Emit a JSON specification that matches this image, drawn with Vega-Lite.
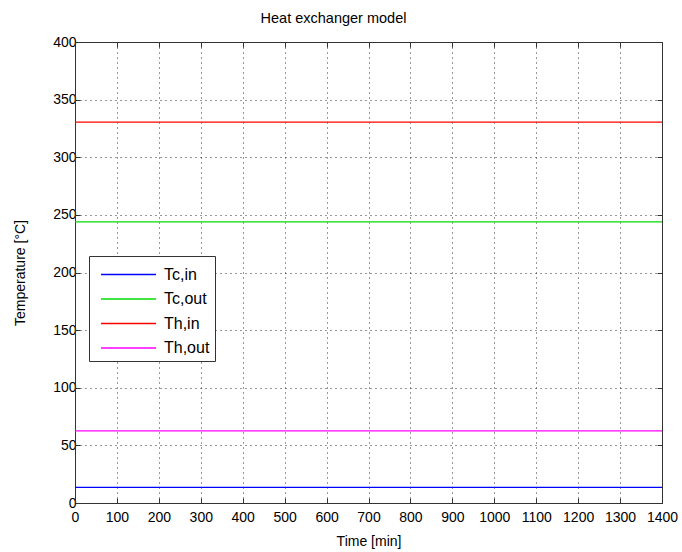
{
  "$schema": "https://vega.github.io/schema/vega-lite/v6.json",
  "autosize": {"type": "none"},
  "width": 587,
  "height": 461,
  "padding": {"left": 75, "top": 42, "right": 20, "bottom": 49},
  "background": "white",
  "title": {"text": "Heat exchanger model", "font": "Liberation Sans", "fontSize": 14.5, "fontWeight": "normal", "color": "#000", "offset": 9, "dx": -35},
  "config": {
    "view": {"stroke": "#333", "strokeWidth": 1},
    "axis": {"labelFont": "Liberation Sans", "titleFont": "Liberation Sans", "labelFontSize": 14, "titleFontSize": 14, "titleFontWeight": "normal", "labelColor": "#000", "titleColor": "#000", "domainColor": "#333", "tickColor": "#333", "tickSize": -5, "labelOverlap": false, "labelFlush": false}
  },
  "data": {"values": [
    {"t": 0, "T": 13.5, "s": "Tc,in"}, {"t": 1400, "T": 13.5, "s": "Tc,in"},
    {"t": 0, "T": 244, "s": "Tc,out"}, {"t": 1400, "T": 244, "s": "Tc,out"},
    {"t": 0, "T": 330.5, "s": "Th,in"}, {"t": 1400, "T": 330.5, "s": "Th,in"},
    {"t": 0, "T": 62.5, "s": "Th,out"}, {"t": 1400, "T": 62.5, "s": "Th,out"}
  ]},
  "layer": [
    {
      "mark": {"type": "line", "strokeWidth": 1.2},
      "encoding": {
        "x": {"field": "t", "type": "quantitative", "scale": {"domain": [0, 1400], "nice": false},
          "axis": {"title": "Time [min]", "format": "d", "labelPadding": 12, "values": [0,100,200,300,400,500,600,700,800,900,1000,1100,1200,1300,1400], "grid": true, "gridDash": [1, 4], "gridColor": "#000", "gridOpacity": 0.8, "titlePadding": 10}},
        "y": {"field": "T", "type": "quantitative", "scale": {"domain": [0, 400], "nice": false},
          "axis": {"title": "Temperature [°C]", "format": "d", "labelPadding": 4, "values": [0,50,100,150,200,250,300,350,400], "grid": true, "gridDash": [1, 4], "gridColor": "#000", "gridOpacity": 0.8, "titlePadding": 25}},
        "color": {"field": "s", "type": "nominal",
          "scale": {"domain": ["Tc,in", "Tc,out", "Th,in", "Th,out"], "range": ["#0000ff", "#00dd00", "#ff0000", "#ff00ff"]},
          "legend": {"title": null, "orient": "none", "legendX": 14, "legendY": 214, "symbolType": "M-0.52,0H3.88", "symbolSize": 625, "symbolStrokeWidth": 1.5, "symbolFillColor": "transparent", "labelFont": "Liberation Sans", "labelFontSize": 16, "labelColor": "#000", "fillColor": "white", "strokeColor": "#333", "padding": 5, "rowPadding": 2.5, "labelOffset": 43}}
      }
    },
    {
      "mark": {"type": "line", "opacity": 0},
      "encoding": {
        "x": {"field": "t", "type": "quantitative", "axis": {"orient": "top", "title": null, "labels": false, "values": [0,100,200,300,400,500,600,700,800,900,1000,1100,1200,1300,1400], "grid": false}},
        "y": {"field": "T", "type": "quantitative", "axis": {"orient": "right", "title": null, "labels": false, "values": [0,50,100,150,200,250,300,350,400], "grid": false}},
        "detail": {"field": "s"}
      }
    }
  ],
  "resolve": {"axis": {"x": "independent", "y": "independent"}}
}
